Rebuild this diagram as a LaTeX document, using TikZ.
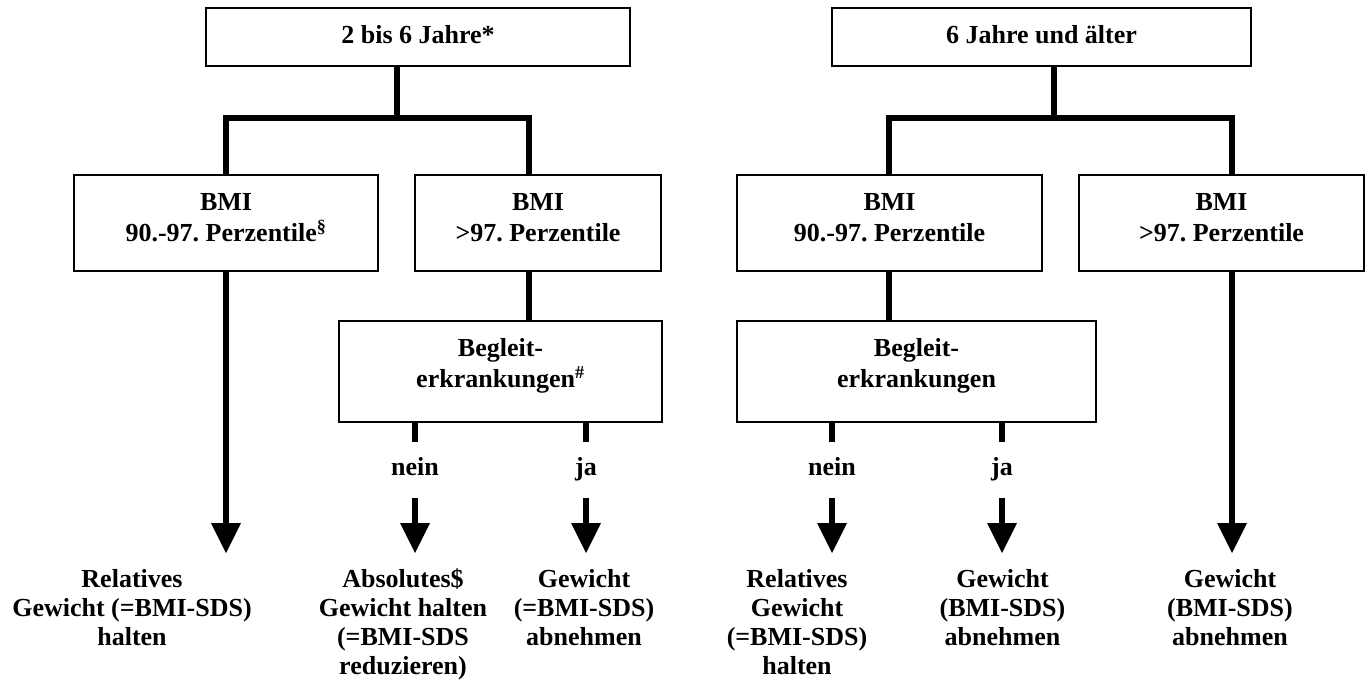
\documentclass[tikz,border=0pt]{standalone}
\usepackage{fontspec}
\setmainfont{Liberation Serif}
\usetikzlibrary{arrows.meta}
\frenchspacing
\begin{document}
\begin{tikzpicture}[x=1pt,y=-1pt,
  box/.style={draw, line width=1.5pt, align=center, inner sep=0pt,
    font=\fontsize{26}{31}\selectfont\bfseries\frenchspacing},
  topbox/.style={box, minimum height=58pt, text depth=5pt},
  bmibox/.style={box, minimum height=96pt, text depth=11pt},
  condbox/.style={box, minimum height=101pt, text depth=17pt},
  conn/.style={line width=6.5pt},
  arr/.style={line width=6.5pt, -{Triangle[width=30pt,length=30pt,line width=0pt]}},
  lab/.style={inner sep=0pt, anchor=base, font=\fontsize{26}{29}\selectfont\bfseries},
  res/.style={align=center, inner sep=0pt, anchor=north,
    font=\fontsize{26}{29}\selectfont\bfseries\frenchspacing},
]
\useasboundingbox (0,0) rectangle (1367,685);

% ---- age group 2 to 6 ----
\node[topbox, minimum width=424pt] (top1) at (418,37) {2 bis 6 Jahre*};
\node[bmibox, minimum width=304pt] (b1) at (226,223) {BMI\\90.-97. Perzentile\textsuperscript{§}};
\node[bmibox, minimum width=246pt] (b2) at (538,223) {BMI\\>97. Perzentile};
\node[condbox, minimum width=323pt] (c1) at (500.5,371.5) {Begleit-\\erkrankungen\textsuperscript{\#}};

\coordinate (j1) at (397,118);
\coordinate (j1l) at (226,118);
\coordinate (j1r) at (529,118);

\node[lab] (n1) at (415,475) {nein};
\node[lab] (y1) at (586,475) {ja};

\node[res] (r1) at (132,566.7) {\strut Relatives\\Gewicht (=BMI-SDS)\\halten};
\node[res] (r2) at (403,566.7) {\strut Absolutes\$\\Gewicht halten\\(=BMI-SDS\\reduzieren)};
\node[res] (r3) at (584,566.7) {\strut Gewicht\\(=BMI-SDS)\\abnehmen};

\draw[conn] (top1.south -| j1) -- (j1);
\draw[conn] (b1.north -| j1l) -- (j1l) -- (j1r) -- (b2.north -| j1r);
\draw[arr] (b1.south -| j1l) -- ([yshift=13.7pt]r1.north -| j1l);
\draw[conn] (b2.south -| j1r) -- (c1.north -| j1r);
\draw[conn] (c1.south -| n1) -- ++(0,19);
\draw[conn] (c1.south -| y1) -- ++(0,19);
\draw[arr] ([yshift=-23pt]n1.base) -- ([yshift=13.7pt]r2.north -| n1);
\draw[arr] ([yshift=-23pt]y1.base) -- ([yshift=13.7pt]r3.north -| y1);

% ---- age group 6 and older ----
\node[topbox, minimum width=419pt] (top2) at (1041.5,37) {6 Jahre und älter};
\node[bmibox, minimum width=305pt] (b3) at (889.5,223) {BMI\\90.-97. Perzentile};
\node[bmibox, minimum width=285pt] (b4) at (1221.5,223) {BMI\\>97. Perzentile};
\node[condbox, minimum width=359pt] (c2) at (916.5,371.5) {Begleit-\\erkrankungen};

\coordinate (j2) at (1054,118);
\coordinate (j2l) at (889,118);
\coordinate (j2r) at (1232,118);

\node[lab] (n2) at (832,475) {nein};
\node[lab] (y2) at (1002,475) {ja};

\node[res] (r4) at (797,566.7) {\strut Relatives\\Gewicht\\(=BMI-SDS)\\halten};
\node[res] (r5) at (1002.5,566.7) {\strut Gewicht\\(BMI-SDS)\\abnehmen};
\node[res] (r6) at (1230,566.7) {\strut Gewicht\\(BMI-SDS)\\abnehmen};

\draw[conn] (top2.south -| j2) -- (j2);
\draw[conn] (b3.north -| j2l) -- (j2l) -- (j2r) -- (b4.north -| j2r);
\draw[conn] (b3.south -| j2l) -- (c2.north -| j2l);
\draw[arr] (b4.south -| j2r) -- ([yshift=13.7pt]r6.north -| j2r);
\draw[conn] (c2.south -| n2) -- ++(0,19);
\draw[conn] (c2.south -| y2) -- ++(0,19);
\draw[arr] ([yshift=-23pt]n2.base) -- ([yshift=13.7pt]r4.north -| n2);
\draw[arr] ([yshift=-23pt]y2.base) -- ([yshift=13.7pt]r5.north -| y2);
\end{tikzpicture}
\end{document}
